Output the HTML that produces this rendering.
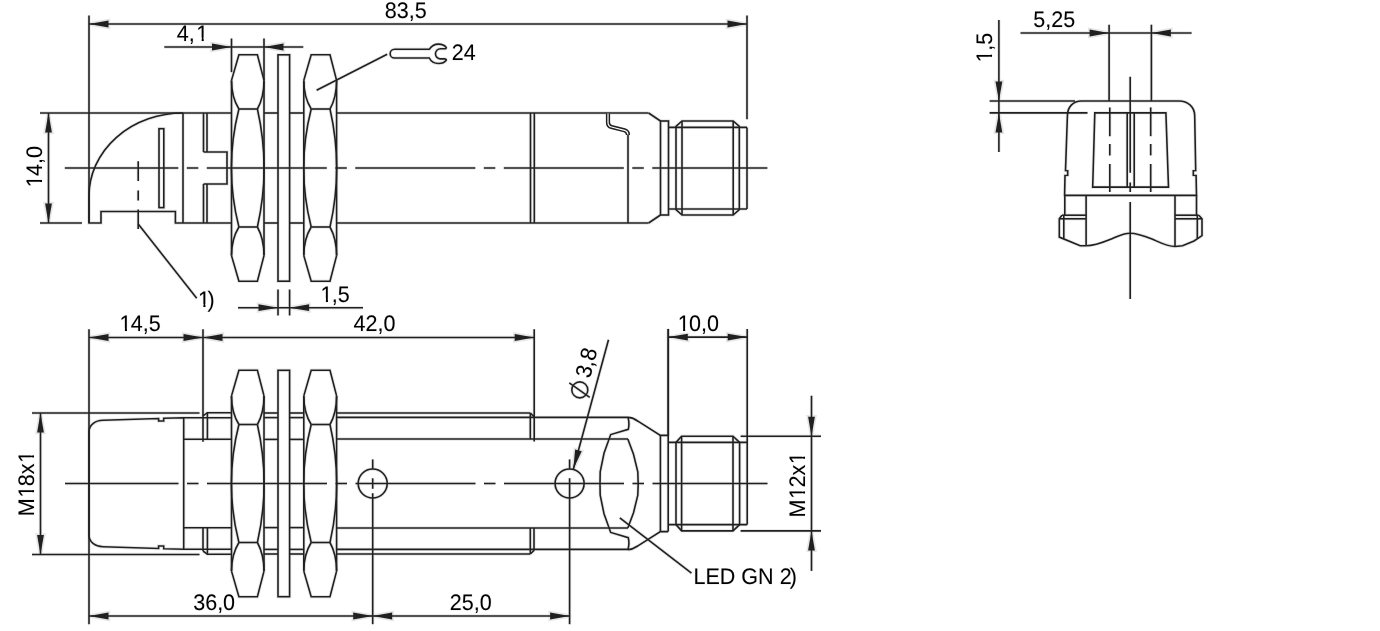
<!DOCTYPE html>
<html><head><meta charset="utf-8"><style>
html,body{margin:0;padding:0;background:#fff;width:1380px;height:631px;overflow:hidden}
svg{display:block;filter:grayscale(1)}
svg *{fill:none;stroke:#000;stroke-width:1.6}
svg .f{fill:#000;stroke:none}
svg .m{fill:#fff;stroke:none}
svg text,svg tspan{fill:#000;stroke:none;text-rendering:geometricPrecision;font-family:"Liberation Sans",sans-serif;font-size:22.5px}
svg .c{stroke-dasharray:120 8.5 11.5 8.5}
svg .h *{stroke:#e6e6e6;stroke-width:3.4px;fill:none}
svg .h text,svg .h tspan{fill:#ececec;stroke:#ececec;stroke-width:1px}
svg .h .m{fill:#fff;stroke:none}
svg .k *{stroke:#202020}
svg .k text,svg .k tspan,svg .k .f,svg .k .m{stroke:none}
svg .k .f{fill:#202020}
</style></head><body>
<svg width="1380" height="631" viewBox="0 0 1380 631">
<g class="h">
<line x1="89" y1="15.5" x2="89" y2="223"/>
<line x1="747" y1="15.5" x2="747" y2="119.3"/>
<line x1="89" y1="24" x2="747" y2="24"/>
<polygon class="f" points="89,24 108.50,20.60 108.50,27.40"/>
<polygon class="f" points="747,24 727.50,27.40 727.50,20.60"/>
<g transform="translate(384.86,17.7) scale(0.957,1)"><text>83,5</text></g>
<line x1="231.5" y1="38.5" x2="231.5" y2="72.2"/>
<line x1="264" y1="38.5" x2="264" y2="80.5"/>
<line x1="164.3" y1="47" x2="303.3" y2="47"/>
<polygon class="f" points="231.5,47 212.00,50.40 212.00,43.60"/>
<polygon class="f" points="264,47 283.50,43.60 283.50,50.40"/>
<g transform="translate(176.71,40.6) scale(0.957,1)"><text dx="0 0 1.74">4,1</text><rect class="m" x="20.95" y="-2.97" width="5.10" height="4.23"/><rect class="m" x="28.26" y="-2.97" width="4.93" height="4.23"/></g>
<path d="M429.3,49.3 L394.5,49.3 A4.35,4.35 0 0 0 394.5,58 L429.3,58 C431,61.5 434.5,63.5 438.5,63.5 C442,63.5 444.8,62.3 446.2,60.3 C446.5,59.3 445.5,58.9 444.5,58.9 L440.5,58.9 A5.05,5.05 0 0 1 440.5,48.8 L444.5,48.8 C445.5,48.8 446.5,48.4 446.2,47.4 C444.8,45.4 442,44.1 438.5,44.1 C434.5,44.1 431,46.5 429.3,49.3 Z"/>
<g transform="translate(451.72,59.9) scale(0.957,1)"><text>24</text></g>
<line x1="316.6" y1="90.3" x2="387.2" y2="54.2"/>
<line x1="40" y1="113" x2="183" y2="113"/>
<line x1="40" y1="223" x2="82" y2="223"/>
<line x1="48.5" y1="113" x2="48.5" y2="223"/>
<polygon class="f" points="48.5,113 51.90,132.50 45.10,132.50"/>
<polygon class="f" points="48.5,223 45.10,203.50 51.90,203.50"/>
<g transform="translate(42.1,188.04) rotate(-90) scale(0.957,1)"><text dx="0.736 -0.736 0 0">14,0</text><rect class="m" x="1.19" y="-2.97" width="5.10" height="4.23"/><rect class="m" x="8.49" y="-2.97" width="4.93" height="4.23"/></g>
<path d="M183,113 A94,83 0 0 0 89,196"/>
<polyline points="89,196 89,223 101,223 101,211.5 175.4,211.5 175.4,223 231.5,223"/>
<line x1="183" y1="113" x2="183" y2="223"/>
<line x1="183" y1="113" x2="231.5" y2="113"/>
<rect x="159" y="128.7" width="4.8" height="78.9"/>
<line x1="138.2" y1="161.3" x2="138.2" y2="181"/>
<line x1="138.2" y1="190.4" x2="138.2" y2="200.6"/>
<line x1="138.2" y1="209.4" x2="138.2" y2="229"/>
<line x1="138.2" y1="224" x2="196.7" y2="298.3"/>
<g transform="translate(197.36,307.0) scale(0.957,1)"><text dx="0.736 -2.54">1)</text><rect class="m" x="1.19" y="-2.97" width="5.10" height="4.23"/><rect class="m" x="8.49" y="-2.97" width="4.93" height="4.23"/></g>
<line x1="203.5" y1="113" x2="203.5" y2="152"/>
<line x1="207" y1="113" x2="207" y2="152"/>
<polyline points="203.5,152 227,152 227,184 203.5,184"/>
<line x1="203.5" y1="184" x2="203.5" y2="223"/>
<line x1="207" y1="184" x2="207" y2="223"/>
<polyline points="231.5,80.4 238.9,54.8 257.4,54.8 264,80.4"/>
<path d="M231.5,80.4 Q231.5,97.0 238.9,109.0"/>
<path d="M264,80.4 Q264,97.0 257.4,109.0"/>
<polyline points="238.9,109.0 257.4,109.0"/>
<polyline points="231.5,255.6 238.9,281.2 257.4,281.2 264,255.6"/>
<path d="M231.5,255.6 Q231.5,239.0 238.9,227.0"/>
<path d="M264,255.6 Q264,239.0 257.4,227.0"/>
<polyline points="238.9,227.0 257.4,227.0"/>
<path d="M238.9,109 A238.9,238.9 0 0 0 238.9,227"/>
<path d="M257.4,109 A267.0,267.0 0 0 1 257.4,227"/>
<line x1="231.5" y1="80.4" x2="231.5" y2="255.6"/>
<line x1="264" y1="80.4" x2="264" y2="255.6"/>
<rect x="278" y="54.8" width="11.600000000000023" height="226.4"/>
<polyline points="303.8,80.4 311.2,54.8 330.0,54.8 336.6,80.4"/>
<path d="M303.8,80.4 Q303.8,97.0 311.2,109.0"/>
<path d="M336.6,80.4 Q336.6,97.0 330.0,109.0"/>
<polyline points="311.2,109.0 330.0,109.0"/>
<polyline points="303.8,255.6 311.2,281.2 330.0,281.2 336.6,255.6"/>
<path d="M303.8,255.6 Q303.8,239.0 311.2,227.0"/>
<path d="M336.6,255.6 Q336.6,239.0 330.0,227.0"/>
<polyline points="311.2,227.0 330.0,227.0"/>
<path d="M311.2,109 A238.9,238.9 0 0 0 311.2,227"/>
<path d="M330.0,109 A267.0,267.0 0 0 1 330.0,227"/>
<line x1="303.8" y1="80.4" x2="303.8" y2="255.6"/>
<line x1="336.6" y1="80.4" x2="336.6" y2="255.6"/>
<line x1="264" y1="113" x2="278" y2="113"/>
<line x1="264" y1="223" x2="278" y2="223"/>
<line x1="289.6" y1="113" x2="303.8" y2="113"/>
<line x1="289.6" y1="223" x2="303.8" y2="223"/>
<line x1="336.6" y1="113" x2="648.6" y2="113"/>
<line x1="336.6" y1="223" x2="648.6" y2="223"/>
<line x1="530.5" y1="113" x2="530.5" y2="223"/>
<line x1="534.3" y1="113" x2="534.3" y2="223"/>
<path d="M608,113.5 L608,122.5 C608,125.5 609.5,126.5 611.5,127 L624.5,130.3 C627,131 628,133 628,135" style="stroke-width:4.2"/>
<path d="M608,113.5 L608,122.5 C608,125.5 609.5,126.5 611.5,127 L624.5,130.3 C627,131 628,133 628,135" style="stroke:#fff;stroke-width:1.2"/>
<line x1="628" y1="134.5" x2="628" y2="223"/>
<line x1="648.6" y1="113" x2="660.5" y2="121"/>
<line x1="648.6" y1="223" x2="660.5" y2="215"/>
<rect x="660.5" y="121" width="8" height="94"/>
<line x1="668.5" y1="127.4" x2="747" y2="127.4"/>
<line x1="668.5" y1="209" x2="747" y2="209"/>
<polyline points="676,127.4 676,126.3 682,121 733.2,121 739.3,126.3 739.3,209.7 733.2,215 682,215 676,209.7 676,127.4"/>
<line x1="682" y1="121" x2="682" y2="215"/>
<line x1="733.2" y1="121" x2="733.2" y2="215"/>
<line x1="747" y1="127.4" x2="747" y2="209"/>
<line class="c" x1="64.8" y1="168" x2="767.4" y2="168" stroke-dashoffset="6.5"/>
<line x1="278" y1="289.5" x2="278" y2="315.5"/>
<line x1="289.6" y1="289.5" x2="289.6" y2="315.5"/>
<line x1="238" y1="307.7" x2="363" y2="307.7"/>
<polygon class="f" points="278,307.7 258.50,311.10 258.50,304.30"/>
<polygon class="f" points="289.6,307.7 309.10,304.30 309.10,311.10"/>
<g transform="translate(319.86,301.5) scale(0.957,1)"><text dx="0.736 -0.736 0">1,5</text><rect class="m" x="1.19" y="-2.97" width="5.10" height="4.23"/><rect class="m" x="8.49" y="-2.97" width="4.93" height="4.23"/></g>
<line x1="89" y1="329.3" x2="89" y2="624.3"/>
<line x1="203" y1="329.3" x2="203" y2="441.8"/>
<line x1="534.2" y1="329.2" x2="534.2" y2="441.6"/>
<line x1="89" y1="337.5" x2="534.2" y2="337.5"/>
<polygon class="f" points="89,337.5 108.50,334.10 108.50,340.90"/>
<polygon class="f" points="203,337.5 183.50,340.90 183.50,334.10"/>
<polygon class="f" points="203,337.5 222.50,334.10 222.50,340.90"/>
<polygon class="f" points="534.2,337.5 514.70,340.90 514.70,334.10"/>
<g transform="translate(118.86,331.3) scale(0.957,1)"><text dx="0.736 -0.736 0 0">14,5</text><rect class="m" x="1.19" y="-2.97" width="5.10" height="4.23"/><rect class="m" x="8.49" y="-2.97" width="4.93" height="4.23"/></g>
<g transform="translate(353.51,331.2) scale(0.957,1)"><text>42,0</text></g>
<line x1="668.3" y1="328.9" x2="668.3" y2="436.2"/>
<line x1="747.2" y1="328.9" x2="747.2" y2="524.6"/>
<line x1="668.3" y1="337.1" x2="747.2" y2="337.1"/>
<polygon class="f" points="668.3,337.1 687.80,333.70 687.80,340.50"/>
<polygon class="f" points="747.2,337.1 727.70,340.50 727.70,333.70"/>
<g transform="translate(677.06,331.3) scale(0.957,1)"><text dx="0.736 -0.736 0 0">10,0</text><rect class="m" x="1.19" y="-2.97" width="5.10" height="4.23"/><rect class="m" x="8.49" y="-2.97" width="4.93" height="4.23"/></g>
<line x1="32" y1="413" x2="199.5" y2="413"/>
<line x1="32" y1="554.5" x2="199.5" y2="554.5"/>
<line x1="40.5" y1="413" x2="40.5" y2="554.5"/>
<polygon class="f" points="40.5,413 43.90,432.50 37.10,432.50"/>
<polygon class="f" points="40.5,554.5 37.10,535.00 43.90,535.00"/>
<g transform="translate(33.9,516.17) rotate(-90) scale(0.957,1)"><text dx="0 0.736 -0.736 0 0.736">M18x1</text><rect class="m" x="19.93" y="-2.97" width="5.10" height="4.23"/><rect class="m" x="27.24" y="-2.97" width="4.93" height="4.23"/><rect class="m" x="56.21" y="-2.97" width="5.10" height="4.23"/><rect class="m" x="63.51" y="-2.97" width="4.93" height="4.23"/></g>
<line x1="740.6" y1="436.2" x2="821" y2="436.2"/>
<line x1="740.6" y1="530.9" x2="821" y2="530.9"/>
<line x1="811.5" y1="395.7" x2="811.5" y2="570.9"/>
<polygon class="f" points="811.5,436.2 808.10,416.70 814.90,416.70"/>
<polygon class="f" points="811.5,530.9 814.90,550.40 808.10,550.40"/>
<g transform="translate(805.0,517.47) rotate(-90) scale(0.957,1)"><text dx="0 0.736 -0.736 0 0.736">M12x1</text><rect class="m" x="19.93" y="-2.97" width="5.10" height="4.23"/><rect class="m" x="27.24" y="-2.97" width="4.93" height="4.23"/><rect class="m" x="56.21" y="-2.97" width="5.10" height="4.23"/><rect class="m" x="63.51" y="-2.97" width="4.93" height="4.23"/></g>
<line x1="372.7" y1="493.2" x2="372.7" y2="624.2"/>
<line x1="89" y1="616" x2="569.6" y2="616"/>
<polygon class="f" points="89,616 108.50,612.60 108.50,619.40"/>
<polygon class="f" points="372.7,616 353.20,619.40 353.20,612.60"/>
<polygon class="f" points="372.7,616 392.20,612.60 392.20,619.40"/>
<polygon class="f" points="569.6,616 550.10,619.40 550.10,612.60"/>
<g transform="translate(193.18,609.8) scale(0.957,1)"><text>36,0</text></g>
<g transform="translate(449.72,609.8) scale(0.957,1)"><text>25,0</text></g>
<path d="M183.7,417.7 L163.7,418.3 L163.7,421 L158.6,421 L158.6,418.5 L103,420.3 C95,420.5 89,425 89,432 L89,535 C89,542 95,546.5 103,546.7 L158.6,548.5 L158.6,546 L163.7,546 L163.7,548.7 L183.7,549.3 Z"/>
<line x1="183.7" y1="417.7" x2="231.5" y2="417.7"/>
<line x1="183.7" y1="549.3" x2="231.5" y2="549.3"/>
<line x1="183.7" y1="439.3" x2="231.5" y2="439.3"/>
<line x1="183.7" y1="527.7" x2="231.5" y2="527.7"/>
<line x1="203" y1="528" x2="203" y2="551"/>
<polyline points="203,415.8 207.4,412.7 231.5,412.7"/>
<line x1="207.4" y1="412.7" x2="207.4" y2="439.3"/>
<polyline points="203,551 207.4,554.3 231.5,554.3"/>
<line x1="207.4" y1="527.7" x2="207.4" y2="554.3"/>
<polyline points="231.5,395.9 238.9,370.3 257.4,370.3 264,395.9"/>
<path d="M231.5,395.9 Q231.5,412.5 238.9,424.5"/>
<path d="M264,395.9 Q264,412.5 257.4,424.5"/>
<polyline points="238.9,424.5 257.4,424.5"/>
<polyline points="231.5,571.1 238.9,596.7 257.4,596.7 264,571.1"/>
<path d="M231.5,571.1 Q231.5,554.5 238.9,542.5"/>
<path d="M264,571.1 Q264,554.5 257.4,542.5"/>
<polyline points="238.9,542.5 257.4,542.5"/>
<path d="M238.9,424.5 A238.9,238.9 0 0 0 238.9,542.5"/>
<path d="M257.4,424.5 A267.0,267.0 0 0 1 257.4,542.5"/>
<line x1="231.5" y1="395.9" x2="231.5" y2="571.1"/>
<line x1="264" y1="395.9" x2="264" y2="571.1"/>
<rect x="278" y="370.3" width="11.600000000000023" height="226.4"/>
<polyline points="303.8,395.9 311.2,370.3 330.0,370.3 336.6,395.9"/>
<path d="M303.8,395.9 Q303.8,412.5 311.2,424.5"/>
<path d="M336.6,395.9 Q336.6,412.5 330.0,424.5"/>
<polyline points="311.2,424.5 330.0,424.5"/>
<polyline points="303.8,571.1 311.2,596.7 330.0,596.7 336.6,571.1"/>
<path d="M303.8,571.1 Q303.8,554.5 311.2,542.5"/>
<path d="M336.6,571.1 Q336.6,554.5 330.0,542.5"/>
<polyline points="311.2,542.5 330.0,542.5"/>
<path d="M311.2,424.5 A238.9,238.9 0 0 0 311.2,542.5"/>
<path d="M330.0,424.5 A267.0,267.0 0 0 1 330.0,542.5"/>
<line x1="303.8" y1="395.9" x2="303.8" y2="571.1"/>
<line x1="336.6" y1="395.9" x2="336.6" y2="571.1"/>
<line x1="264" y1="413" x2="278" y2="413"/>
<line x1="264" y1="417.6" x2="278" y2="417.6"/>
<line x1="264" y1="439.4" x2="278" y2="439.4"/>
<line x1="264" y1="527.6" x2="278" y2="527.6"/>
<line x1="264" y1="549.4" x2="278" y2="549.4"/>
<line x1="264" y1="554" x2="278" y2="554"/>
<line x1="289.6" y1="413" x2="303.8" y2="413"/>
<line x1="289.6" y1="417.6" x2="303.8" y2="417.6"/>
<line x1="289.6" y1="439.4" x2="303.8" y2="439.4"/>
<line x1="289.6" y1="527.6" x2="303.8" y2="527.6"/>
<line x1="289.6" y1="549.4" x2="303.8" y2="549.4"/>
<line x1="289.6" y1="554" x2="303.8" y2="554"/>
<line x1="336.6" y1="413" x2="530.3" y2="413"/>
<line x1="530.3" y1="413" x2="534" y2="416.6"/>
<line x1="336.6" y1="554" x2="530.3" y2="554"/>
<line x1="530.3" y1="554" x2="534" y2="550.4"/>
<line x1="336.6" y1="417.4" x2="628" y2="417.4"/>
<line x1="336.6" y1="549.4" x2="628" y2="549.4"/>
<line x1="336.6" y1="439" x2="628" y2="439"/>
<line x1="336.6" y1="528" x2="628" y2="528"/>
<line x1="530.3" y1="413" x2="530.3" y2="439"/>
<line x1="530.3" y1="528" x2="530.3" y2="554"/>
<line x1="534" y1="528" x2="534" y2="550.4"/>
<circle cx="372.7" cy="483.5" r="14.5"/>
<line x1="372.7" y1="459.4" x2="372.7" y2="469"/>
<line x1="372.7" y1="478.3" x2="372.7" y2="488.8"/>
<circle cx="569.6" cy="483.5" r="14.5"/>
<line x1="569.6" y1="459.4" x2="569.6" y2="469"/>
<line x1="569.6" y1="478.2" x2="569.6" y2="624.2"/>
<path d="M628,417.4 C633,417.4 635.8,419.8 638.3,421.4 L660.4,435.4 L668.2,435.4"/>
<path d="M628,549.6 C633,549.6 635.8,547.2 638.3,545.6 L660.4,531.6 L668.2,531.6"/>
<path d="M628,417.4 C629,421 629.3,425 628.3,429.3 L610.7,434.6 L604,453.3 L600.2,471.8 L600,483.5 L600.2,495.2 L604,513.7 L610.7,532.4 L628.3,537.7 C629.3,542 629,546 628,549.6"/>
<path d="M627.8,439 L633.5,454.2 L637.8,471.8 L638.2,483.5 L637.8,495.2 L633.5,512.8 L627.8,528"/>
<line x1="660.4" y1="435.4" x2="660.4" y2="531.6"/>
<line x1="668.2" y1="328.9" x2="668.2" y2="531.6"/>
<line x1="668.2" y1="442.4" x2="747.2" y2="442.4"/>
<line x1="668.2" y1="524.6" x2="747.2" y2="524.6"/>
<polyline points="676,442.4 681.6,436.2 733,436.2 739.6,442.4 739.6,524.6 733,530.9 681.6,530.9 676,524.6 676,442.4"/>
<line x1="681.6" y1="436.2" x2="681.6" y2="530.9"/>
<line x1="733" y1="436.2" x2="733" y2="530.9"/>
<line class="c" x1="65" y1="483.5" x2="767.5" y2="483.5" stroke-dashoffset="6.5"/>
<line x1="619.8" y1="517.8" x2="691.5" y2="573.2"/>
<g transform="translate(693.43,584.1) scale(0.957,1)"><text dx="0 0 0 0 0 0 0 0 -2">LED GN 2)</text></g>
<line x1="608.5" y1="339.7" x2="573.3" y2="469.2"/>
<polygon class="f" points="573.3,469.2 575.13,449.49 581.70,451.27"/>
<text transform="translate(590.1,379.1) rotate(-75.5) scale(0.957,1)">3,8</text>
<circle cx="579.8" cy="389.9" r="8"/>
<line x1="569.3" y1="382.8" x2="589.7" y2="397.4"/>
<line x1="1020.5" y1="33" x2="1191.6" y2="33"/>
<line x1="1109.1" y1="24.7" x2="1109.1" y2="101"/>
<line x1="1151.4" y1="24.7" x2="1151.4" y2="101"/>
<polygon class="f" points="1109.1,33 1089.60,36.40 1089.60,29.60"/>
<polygon class="f" points="1151.4,33 1170.90,29.60 1170.90,36.40"/>
<g transform="translate(1033.34,26.8) scale(0.957,1)"><text>5,25</text></g>
<line x1="998.9" y1="20" x2="998.9" y2="152"/>
<polygon class="f" points="998.9,101 995.50,81.50 1002.30,81.50"/>
<polygon class="f" points="998.9,112.9 1002.30,132.40 995.50,132.40"/>
<line x1="989.6" y1="101" x2="1075" y2="101"/>
<line x1="989.6" y1="112.9" x2="1087.5" y2="112.9"/>
<g transform="translate(991.8,62.84) rotate(-90) scale(0.957,1)"><text dx="0.736 -0.736 0">1,5</text><rect class="m" x="1.19" y="-2.97" width="5.10" height="4.23"/><rect class="m" x="8.49" y="-2.97" width="4.93" height="4.23"/></g>
<path d="M1067.4,116 C1067.4,107 1073,101 1081.4,101 L1179,101 C1188,101 1194.7,107 1194.7,116 L1195.7,170.6 L1193.3,170.8 L1193.3,175.2 L1196.1,175.4 L1196.5,195.4 L1064.6,195.4 L1065,175.4 L1067.7,175.2 L1067.7,170.8 L1065.5,170.6 Z"/>
<polygon points="1094.8,112.9 1165.9,112.9 1168.5,187.1 1092.7,187.1"/>
<line x1="1127.2" y1="112.9" x2="1127.2" y2="187.1"/>
<line x1="1134.2" y1="112.9" x2="1134.2" y2="187.1"/>
<line x1="1109.8" y1="107.4" x2="1109.8" y2="136.2"/>
<line x1="1109.8" y1="144" x2="1109.8" y2="155.4"/>
<line x1="1109.8" y1="164" x2="1109.8" y2="192"/>
<line x1="1150.7" y1="107.4" x2="1150.7" y2="136.2"/>
<line x1="1150.7" y1="144" x2="1150.7" y2="155.4"/>
<line x1="1150.7" y1="164" x2="1150.7" y2="192"/>
<line x1="1130.2" y1="76.7" x2="1130.2" y2="172.8"/>
<line x1="1130.2" y1="182.4" x2="1130.2" y2="192"/>
<line x1="1130.2" y1="201.9" x2="1130.2" y2="298.9"/>
<line x1="1064.8" y1="195.4" x2="1064.8" y2="215.2"/>
<line x1="1196.5" y1="195.4" x2="1196.5" y2="215.2"/>
<line x1="1086.1" y1="195.4" x2="1086.1" y2="245.6"/>
<line x1="1175" y1="195.4" x2="1175" y2="246.6"/>
<line x1="1062" y1="215.2" x2="1086.1" y2="215.2"/>
<line x1="1059.3" y1="218.8" x2="1086.1" y2="218.8"/>
<line x1="1175" y1="215.2" x2="1198.8" y2="215.2"/>
<line x1="1175" y1="218.8" x2="1202" y2="218.8"/>
<polyline points="1062,215.2 1059.3,218.8 1059.3,237.1 1080.2,245.7 1086.1,245.8"/>
<polyline points="1198.8,215.2 1202,218.8 1202,235.6 1194,241 1182.5,245.8 1175,246.5"/>
<line x1="1063.8" y1="215.2" x2="1063.8" y2="238.5"/>
<line x1="1197.3" y1="215.2" x2="1197.3" y2="238"/>
<path d="M1086.1,245.8 C1094,245.8 1100,243.6 1110,239.5 C1118,236.2 1123,233.2 1130,233.2 C1137,233.2 1142,235 1152,239 C1160,242.5 1167,246.5 1175,246.5"/>
</g>
<g class="k">
<line x1="89" y1="15.5" x2="89" y2="223"/>
<line x1="747" y1="15.5" x2="747" y2="119.3"/>
<line x1="89" y1="24" x2="747" y2="24"/>
<polygon class="f" points="89,24 108.50,20.60 108.50,27.40"/>
<polygon class="f" points="747,24 727.50,27.40 727.50,20.60"/>
<g transform="translate(384.86,17.7) scale(0.957,1)"><text>83,5</text></g>
<line x1="231.5" y1="38.5" x2="231.5" y2="72.2"/>
<line x1="264" y1="38.5" x2="264" y2="80.5"/>
<line x1="164.3" y1="47" x2="303.3" y2="47"/>
<polygon class="f" points="231.5,47 212.00,50.40 212.00,43.60"/>
<polygon class="f" points="264,47 283.50,43.60 283.50,50.40"/>
<g transform="translate(176.71,40.6) scale(0.957,1)"><text dx="0 0 1.74">4,1</text><rect class="m" x="20.95" y="-2.97" width="5.10" height="4.23"/><rect class="m" x="28.26" y="-2.97" width="4.93" height="4.23"/></g>
<path d="M429.3,49.3 L394.5,49.3 A4.35,4.35 0 0 0 394.5,58 L429.3,58 C431,61.5 434.5,63.5 438.5,63.5 C442,63.5 444.8,62.3 446.2,60.3 C446.5,59.3 445.5,58.9 444.5,58.9 L440.5,58.9 A5.05,5.05 0 0 1 440.5,48.8 L444.5,48.8 C445.5,48.8 446.5,48.4 446.2,47.4 C444.8,45.4 442,44.1 438.5,44.1 C434.5,44.1 431,46.5 429.3,49.3 Z"/>
<g transform="translate(451.72,59.9) scale(0.957,1)"><text>24</text></g>
<line x1="316.6" y1="90.3" x2="387.2" y2="54.2"/>
<line x1="40" y1="113" x2="183" y2="113"/>
<line x1="40" y1="223" x2="82" y2="223"/>
<line x1="48.5" y1="113" x2="48.5" y2="223"/>
<polygon class="f" points="48.5,113 51.90,132.50 45.10,132.50"/>
<polygon class="f" points="48.5,223 45.10,203.50 51.90,203.50"/>
<g transform="translate(42.1,188.04) rotate(-90) scale(0.957,1)"><text dx="0.736 -0.736 0 0">14,0</text><rect class="m" x="1.19" y="-2.97" width="5.10" height="4.23"/><rect class="m" x="8.49" y="-2.97" width="4.93" height="4.23"/></g>
<path d="M183,113 A94,83 0 0 0 89,196"/>
<polyline points="89,196 89,223 101,223 101,211.5 175.4,211.5 175.4,223 231.5,223"/>
<line x1="183" y1="113" x2="183" y2="223"/>
<line x1="183" y1="113" x2="231.5" y2="113"/>
<rect x="159" y="128.7" width="4.8" height="78.9"/>
<line x1="138.2" y1="161.3" x2="138.2" y2="181"/>
<line x1="138.2" y1="190.4" x2="138.2" y2="200.6"/>
<line x1="138.2" y1="209.4" x2="138.2" y2="229"/>
<line x1="138.2" y1="224" x2="196.7" y2="298.3"/>
<g transform="translate(197.36,307.0) scale(0.957,1)"><text dx="0.736 -2.54">1)</text><rect class="m" x="1.19" y="-2.97" width="5.10" height="4.23"/><rect class="m" x="8.49" y="-2.97" width="4.93" height="4.23"/></g>
<line x1="203.5" y1="113" x2="203.5" y2="152"/>
<line x1="207" y1="113" x2="207" y2="152"/>
<polyline points="203.5,152 227,152 227,184 203.5,184"/>
<line x1="203.5" y1="184" x2="203.5" y2="223"/>
<line x1="207" y1="184" x2="207" y2="223"/>
<polyline points="231.5,80.4 238.9,54.8 257.4,54.8 264,80.4"/>
<path d="M231.5,80.4 Q231.5,97.0 238.9,109.0"/>
<path d="M264,80.4 Q264,97.0 257.4,109.0"/>
<polyline points="238.9,109.0 257.4,109.0"/>
<polyline points="231.5,255.6 238.9,281.2 257.4,281.2 264,255.6"/>
<path d="M231.5,255.6 Q231.5,239.0 238.9,227.0"/>
<path d="M264,255.6 Q264,239.0 257.4,227.0"/>
<polyline points="238.9,227.0 257.4,227.0"/>
<path d="M238.9,109 A238.9,238.9 0 0 0 238.9,227"/>
<path d="M257.4,109 A267.0,267.0 0 0 1 257.4,227"/>
<line x1="231.5" y1="80.4" x2="231.5" y2="255.6"/>
<line x1="264" y1="80.4" x2="264" y2="255.6"/>
<rect x="278" y="54.8" width="11.600000000000023" height="226.4"/>
<polyline points="303.8,80.4 311.2,54.8 330.0,54.8 336.6,80.4"/>
<path d="M303.8,80.4 Q303.8,97.0 311.2,109.0"/>
<path d="M336.6,80.4 Q336.6,97.0 330.0,109.0"/>
<polyline points="311.2,109.0 330.0,109.0"/>
<polyline points="303.8,255.6 311.2,281.2 330.0,281.2 336.6,255.6"/>
<path d="M303.8,255.6 Q303.8,239.0 311.2,227.0"/>
<path d="M336.6,255.6 Q336.6,239.0 330.0,227.0"/>
<polyline points="311.2,227.0 330.0,227.0"/>
<path d="M311.2,109 A238.9,238.9 0 0 0 311.2,227"/>
<path d="M330.0,109 A267.0,267.0 0 0 1 330.0,227"/>
<line x1="303.8" y1="80.4" x2="303.8" y2="255.6"/>
<line x1="336.6" y1="80.4" x2="336.6" y2="255.6"/>
<line x1="264" y1="113" x2="278" y2="113"/>
<line x1="264" y1="223" x2="278" y2="223"/>
<line x1="289.6" y1="113" x2="303.8" y2="113"/>
<line x1="289.6" y1="223" x2="303.8" y2="223"/>
<line x1="336.6" y1="113" x2="648.6" y2="113"/>
<line x1="336.6" y1="223" x2="648.6" y2="223"/>
<line x1="530.5" y1="113" x2="530.5" y2="223"/>
<line x1="534.3" y1="113" x2="534.3" y2="223"/>
<path d="M608,113.5 L608,122.5 C608,125.5 609.5,126.5 611.5,127 L624.5,130.3 C627,131 628,133 628,135" style="stroke-width:4.2"/>
<path d="M608,113.5 L608,122.5 C608,125.5 609.5,126.5 611.5,127 L624.5,130.3 C627,131 628,133 628,135" style="stroke:#fff;stroke-width:1.2"/>
<line x1="628" y1="134.5" x2="628" y2="223"/>
<line x1="648.6" y1="113" x2="660.5" y2="121"/>
<line x1="648.6" y1="223" x2="660.5" y2="215"/>
<rect x="660.5" y="121" width="8" height="94"/>
<line x1="668.5" y1="127.4" x2="747" y2="127.4"/>
<line x1="668.5" y1="209" x2="747" y2="209"/>
<polyline points="676,127.4 676,126.3 682,121 733.2,121 739.3,126.3 739.3,209.7 733.2,215 682,215 676,209.7 676,127.4"/>
<line x1="682" y1="121" x2="682" y2="215"/>
<line x1="733.2" y1="121" x2="733.2" y2="215"/>
<line x1="747" y1="127.4" x2="747" y2="209"/>
<line class="c" x1="64.8" y1="168" x2="767.4" y2="168" stroke-dashoffset="6.5"/>
<line x1="278" y1="289.5" x2="278" y2="315.5"/>
<line x1="289.6" y1="289.5" x2="289.6" y2="315.5"/>
<line x1="238" y1="307.7" x2="363" y2="307.7"/>
<polygon class="f" points="278,307.7 258.50,311.10 258.50,304.30"/>
<polygon class="f" points="289.6,307.7 309.10,304.30 309.10,311.10"/>
<g transform="translate(319.86,301.5) scale(0.957,1)"><text dx="0.736 -0.736 0">1,5</text><rect class="m" x="1.19" y="-2.97" width="5.10" height="4.23"/><rect class="m" x="8.49" y="-2.97" width="4.93" height="4.23"/></g>
<line x1="89" y1="329.3" x2="89" y2="624.3"/>
<line x1="203" y1="329.3" x2="203" y2="441.8"/>
<line x1="534.2" y1="329.2" x2="534.2" y2="441.6"/>
<line x1="89" y1="337.5" x2="534.2" y2="337.5"/>
<polygon class="f" points="89,337.5 108.50,334.10 108.50,340.90"/>
<polygon class="f" points="203,337.5 183.50,340.90 183.50,334.10"/>
<polygon class="f" points="203,337.5 222.50,334.10 222.50,340.90"/>
<polygon class="f" points="534.2,337.5 514.70,340.90 514.70,334.10"/>
<g transform="translate(118.86,331.3) scale(0.957,1)"><text dx="0.736 -0.736 0 0">14,5</text><rect class="m" x="1.19" y="-2.97" width="5.10" height="4.23"/><rect class="m" x="8.49" y="-2.97" width="4.93" height="4.23"/></g>
<g transform="translate(353.51,331.2) scale(0.957,1)"><text>42,0</text></g>
<line x1="668.3" y1="328.9" x2="668.3" y2="436.2"/>
<line x1="747.2" y1="328.9" x2="747.2" y2="524.6"/>
<line x1="668.3" y1="337.1" x2="747.2" y2="337.1"/>
<polygon class="f" points="668.3,337.1 687.80,333.70 687.80,340.50"/>
<polygon class="f" points="747.2,337.1 727.70,340.50 727.70,333.70"/>
<g transform="translate(677.06,331.3) scale(0.957,1)"><text dx="0.736 -0.736 0 0">10,0</text><rect class="m" x="1.19" y="-2.97" width="5.10" height="4.23"/><rect class="m" x="8.49" y="-2.97" width="4.93" height="4.23"/></g>
<line x1="32" y1="413" x2="199.5" y2="413"/>
<line x1="32" y1="554.5" x2="199.5" y2="554.5"/>
<line x1="40.5" y1="413" x2="40.5" y2="554.5"/>
<polygon class="f" points="40.5,413 43.90,432.50 37.10,432.50"/>
<polygon class="f" points="40.5,554.5 37.10,535.00 43.90,535.00"/>
<g transform="translate(33.9,516.17) rotate(-90) scale(0.957,1)"><text dx="0 0.736 -0.736 0 0.736">M18x1</text><rect class="m" x="19.93" y="-2.97" width="5.10" height="4.23"/><rect class="m" x="27.24" y="-2.97" width="4.93" height="4.23"/><rect class="m" x="56.21" y="-2.97" width="5.10" height="4.23"/><rect class="m" x="63.51" y="-2.97" width="4.93" height="4.23"/></g>
<line x1="740.6" y1="436.2" x2="821" y2="436.2"/>
<line x1="740.6" y1="530.9" x2="821" y2="530.9"/>
<line x1="811.5" y1="395.7" x2="811.5" y2="570.9"/>
<polygon class="f" points="811.5,436.2 808.10,416.70 814.90,416.70"/>
<polygon class="f" points="811.5,530.9 814.90,550.40 808.10,550.40"/>
<g transform="translate(805.0,517.47) rotate(-90) scale(0.957,1)"><text dx="0 0.736 -0.736 0 0.736">M12x1</text><rect class="m" x="19.93" y="-2.97" width="5.10" height="4.23"/><rect class="m" x="27.24" y="-2.97" width="4.93" height="4.23"/><rect class="m" x="56.21" y="-2.97" width="5.10" height="4.23"/><rect class="m" x="63.51" y="-2.97" width="4.93" height="4.23"/></g>
<line x1="372.7" y1="493.2" x2="372.7" y2="624.2"/>
<line x1="89" y1="616" x2="569.6" y2="616"/>
<polygon class="f" points="89,616 108.50,612.60 108.50,619.40"/>
<polygon class="f" points="372.7,616 353.20,619.40 353.20,612.60"/>
<polygon class="f" points="372.7,616 392.20,612.60 392.20,619.40"/>
<polygon class="f" points="569.6,616 550.10,619.40 550.10,612.60"/>
<g transform="translate(193.18,609.8) scale(0.957,1)"><text>36,0</text></g>
<g transform="translate(449.72,609.8) scale(0.957,1)"><text>25,0</text></g>
<path d="M183.7,417.7 L163.7,418.3 L163.7,421 L158.6,421 L158.6,418.5 L103,420.3 C95,420.5 89,425 89,432 L89,535 C89,542 95,546.5 103,546.7 L158.6,548.5 L158.6,546 L163.7,546 L163.7,548.7 L183.7,549.3 Z"/>
<line x1="183.7" y1="417.7" x2="231.5" y2="417.7"/>
<line x1="183.7" y1="549.3" x2="231.5" y2="549.3"/>
<line x1="183.7" y1="439.3" x2="231.5" y2="439.3"/>
<line x1="183.7" y1="527.7" x2="231.5" y2="527.7"/>
<line x1="203" y1="528" x2="203" y2="551"/>
<polyline points="203,415.8 207.4,412.7 231.5,412.7"/>
<line x1="207.4" y1="412.7" x2="207.4" y2="439.3"/>
<polyline points="203,551 207.4,554.3 231.5,554.3"/>
<line x1="207.4" y1="527.7" x2="207.4" y2="554.3"/>
<polyline points="231.5,395.9 238.9,370.3 257.4,370.3 264,395.9"/>
<path d="M231.5,395.9 Q231.5,412.5 238.9,424.5"/>
<path d="M264,395.9 Q264,412.5 257.4,424.5"/>
<polyline points="238.9,424.5 257.4,424.5"/>
<polyline points="231.5,571.1 238.9,596.7 257.4,596.7 264,571.1"/>
<path d="M231.5,571.1 Q231.5,554.5 238.9,542.5"/>
<path d="M264,571.1 Q264,554.5 257.4,542.5"/>
<polyline points="238.9,542.5 257.4,542.5"/>
<path d="M238.9,424.5 A238.9,238.9 0 0 0 238.9,542.5"/>
<path d="M257.4,424.5 A267.0,267.0 0 0 1 257.4,542.5"/>
<line x1="231.5" y1="395.9" x2="231.5" y2="571.1"/>
<line x1="264" y1="395.9" x2="264" y2="571.1"/>
<rect x="278" y="370.3" width="11.600000000000023" height="226.4"/>
<polyline points="303.8,395.9 311.2,370.3 330.0,370.3 336.6,395.9"/>
<path d="M303.8,395.9 Q303.8,412.5 311.2,424.5"/>
<path d="M336.6,395.9 Q336.6,412.5 330.0,424.5"/>
<polyline points="311.2,424.5 330.0,424.5"/>
<polyline points="303.8,571.1 311.2,596.7 330.0,596.7 336.6,571.1"/>
<path d="M303.8,571.1 Q303.8,554.5 311.2,542.5"/>
<path d="M336.6,571.1 Q336.6,554.5 330.0,542.5"/>
<polyline points="311.2,542.5 330.0,542.5"/>
<path d="M311.2,424.5 A238.9,238.9 0 0 0 311.2,542.5"/>
<path d="M330.0,424.5 A267.0,267.0 0 0 1 330.0,542.5"/>
<line x1="303.8" y1="395.9" x2="303.8" y2="571.1"/>
<line x1="336.6" y1="395.9" x2="336.6" y2="571.1"/>
<line x1="264" y1="413" x2="278" y2="413"/>
<line x1="264" y1="417.6" x2="278" y2="417.6"/>
<line x1="264" y1="439.4" x2="278" y2="439.4"/>
<line x1="264" y1="527.6" x2="278" y2="527.6"/>
<line x1="264" y1="549.4" x2="278" y2="549.4"/>
<line x1="264" y1="554" x2="278" y2="554"/>
<line x1="289.6" y1="413" x2="303.8" y2="413"/>
<line x1="289.6" y1="417.6" x2="303.8" y2="417.6"/>
<line x1="289.6" y1="439.4" x2="303.8" y2="439.4"/>
<line x1="289.6" y1="527.6" x2="303.8" y2="527.6"/>
<line x1="289.6" y1="549.4" x2="303.8" y2="549.4"/>
<line x1="289.6" y1="554" x2="303.8" y2="554"/>
<line x1="336.6" y1="413" x2="530.3" y2="413"/>
<line x1="530.3" y1="413" x2="534" y2="416.6"/>
<line x1="336.6" y1="554" x2="530.3" y2="554"/>
<line x1="530.3" y1="554" x2="534" y2="550.4"/>
<line x1="336.6" y1="417.4" x2="628" y2="417.4"/>
<line x1="336.6" y1="549.4" x2="628" y2="549.4"/>
<line x1="336.6" y1="439" x2="628" y2="439"/>
<line x1="336.6" y1="528" x2="628" y2="528"/>
<line x1="530.3" y1="413" x2="530.3" y2="439"/>
<line x1="530.3" y1="528" x2="530.3" y2="554"/>
<line x1="534" y1="528" x2="534" y2="550.4"/>
<circle cx="372.7" cy="483.5" r="14.5"/>
<line x1="372.7" y1="459.4" x2="372.7" y2="469"/>
<line x1="372.7" y1="478.3" x2="372.7" y2="488.8"/>
<circle cx="569.6" cy="483.5" r="14.5"/>
<line x1="569.6" y1="459.4" x2="569.6" y2="469"/>
<line x1="569.6" y1="478.2" x2="569.6" y2="624.2"/>
<path d="M628,417.4 C633,417.4 635.8,419.8 638.3,421.4 L660.4,435.4 L668.2,435.4"/>
<path d="M628,549.6 C633,549.6 635.8,547.2 638.3,545.6 L660.4,531.6 L668.2,531.6"/>
<path d="M628,417.4 C629,421 629.3,425 628.3,429.3 L610.7,434.6 L604,453.3 L600.2,471.8 L600,483.5 L600.2,495.2 L604,513.7 L610.7,532.4 L628.3,537.7 C629.3,542 629,546 628,549.6"/>
<path d="M627.8,439 L633.5,454.2 L637.8,471.8 L638.2,483.5 L637.8,495.2 L633.5,512.8 L627.8,528"/>
<line x1="660.4" y1="435.4" x2="660.4" y2="531.6"/>
<line x1="668.2" y1="328.9" x2="668.2" y2="531.6"/>
<line x1="668.2" y1="442.4" x2="747.2" y2="442.4"/>
<line x1="668.2" y1="524.6" x2="747.2" y2="524.6"/>
<polyline points="676,442.4 681.6,436.2 733,436.2 739.6,442.4 739.6,524.6 733,530.9 681.6,530.9 676,524.6 676,442.4"/>
<line x1="681.6" y1="436.2" x2="681.6" y2="530.9"/>
<line x1="733" y1="436.2" x2="733" y2="530.9"/>
<line class="c" x1="65" y1="483.5" x2="767.5" y2="483.5" stroke-dashoffset="6.5"/>
<line x1="619.8" y1="517.8" x2="691.5" y2="573.2"/>
<g transform="translate(693.43,584.1) scale(0.957,1)"><text dx="0 0 0 0 0 0 0 0 -2">LED GN 2)</text></g>
<line x1="608.5" y1="339.7" x2="573.3" y2="469.2"/>
<polygon class="f" points="573.3,469.2 575.13,449.49 581.70,451.27"/>
<text transform="translate(590.1,379.1) rotate(-75.5) scale(0.957,1)">3,8</text>
<circle cx="579.8" cy="389.9" r="8"/>
<line x1="569.3" y1="382.8" x2="589.7" y2="397.4"/>
<line x1="1020.5" y1="33" x2="1191.6" y2="33"/>
<line x1="1109.1" y1="24.7" x2="1109.1" y2="101"/>
<line x1="1151.4" y1="24.7" x2="1151.4" y2="101"/>
<polygon class="f" points="1109.1,33 1089.60,36.40 1089.60,29.60"/>
<polygon class="f" points="1151.4,33 1170.90,29.60 1170.90,36.40"/>
<g transform="translate(1033.34,26.8) scale(0.957,1)"><text>5,25</text></g>
<line x1="998.9" y1="20" x2="998.9" y2="152"/>
<polygon class="f" points="998.9,101 995.50,81.50 1002.30,81.50"/>
<polygon class="f" points="998.9,112.9 1002.30,132.40 995.50,132.40"/>
<line x1="989.6" y1="101" x2="1075" y2="101"/>
<line x1="989.6" y1="112.9" x2="1087.5" y2="112.9"/>
<g transform="translate(991.8,62.84) rotate(-90) scale(0.957,1)"><text dx="0.736 -0.736 0">1,5</text><rect class="m" x="1.19" y="-2.97" width="5.10" height="4.23"/><rect class="m" x="8.49" y="-2.97" width="4.93" height="4.23"/></g>
<path d="M1067.4,116 C1067.4,107 1073,101 1081.4,101 L1179,101 C1188,101 1194.7,107 1194.7,116 L1195.7,170.6 L1193.3,170.8 L1193.3,175.2 L1196.1,175.4 L1196.5,195.4 L1064.6,195.4 L1065,175.4 L1067.7,175.2 L1067.7,170.8 L1065.5,170.6 Z"/>
<polygon points="1094.8,112.9 1165.9,112.9 1168.5,187.1 1092.7,187.1"/>
<line x1="1127.2" y1="112.9" x2="1127.2" y2="187.1"/>
<line x1="1134.2" y1="112.9" x2="1134.2" y2="187.1"/>
<line x1="1109.8" y1="107.4" x2="1109.8" y2="136.2"/>
<line x1="1109.8" y1="144" x2="1109.8" y2="155.4"/>
<line x1="1109.8" y1="164" x2="1109.8" y2="192"/>
<line x1="1150.7" y1="107.4" x2="1150.7" y2="136.2"/>
<line x1="1150.7" y1="144" x2="1150.7" y2="155.4"/>
<line x1="1150.7" y1="164" x2="1150.7" y2="192"/>
<line x1="1130.2" y1="76.7" x2="1130.2" y2="172.8"/>
<line x1="1130.2" y1="182.4" x2="1130.2" y2="192"/>
<line x1="1130.2" y1="201.9" x2="1130.2" y2="298.9"/>
<line x1="1064.8" y1="195.4" x2="1064.8" y2="215.2"/>
<line x1="1196.5" y1="195.4" x2="1196.5" y2="215.2"/>
<line x1="1086.1" y1="195.4" x2="1086.1" y2="245.6"/>
<line x1="1175" y1="195.4" x2="1175" y2="246.6"/>
<line x1="1062" y1="215.2" x2="1086.1" y2="215.2"/>
<line x1="1059.3" y1="218.8" x2="1086.1" y2="218.8"/>
<line x1="1175" y1="215.2" x2="1198.8" y2="215.2"/>
<line x1="1175" y1="218.8" x2="1202" y2="218.8"/>
<polyline points="1062,215.2 1059.3,218.8 1059.3,237.1 1080.2,245.7 1086.1,245.8"/>
<polyline points="1198.8,215.2 1202,218.8 1202,235.6 1194,241 1182.5,245.8 1175,246.5"/>
<line x1="1063.8" y1="215.2" x2="1063.8" y2="238.5"/>
<line x1="1197.3" y1="215.2" x2="1197.3" y2="238"/>
<path d="M1086.1,245.8 C1094,245.8 1100,243.6 1110,239.5 C1118,236.2 1123,233.2 1130,233.2 C1137,233.2 1142,235 1152,239 C1160,242.5 1167,246.5 1175,246.5"/>
</g>
</svg>
</body></html>
